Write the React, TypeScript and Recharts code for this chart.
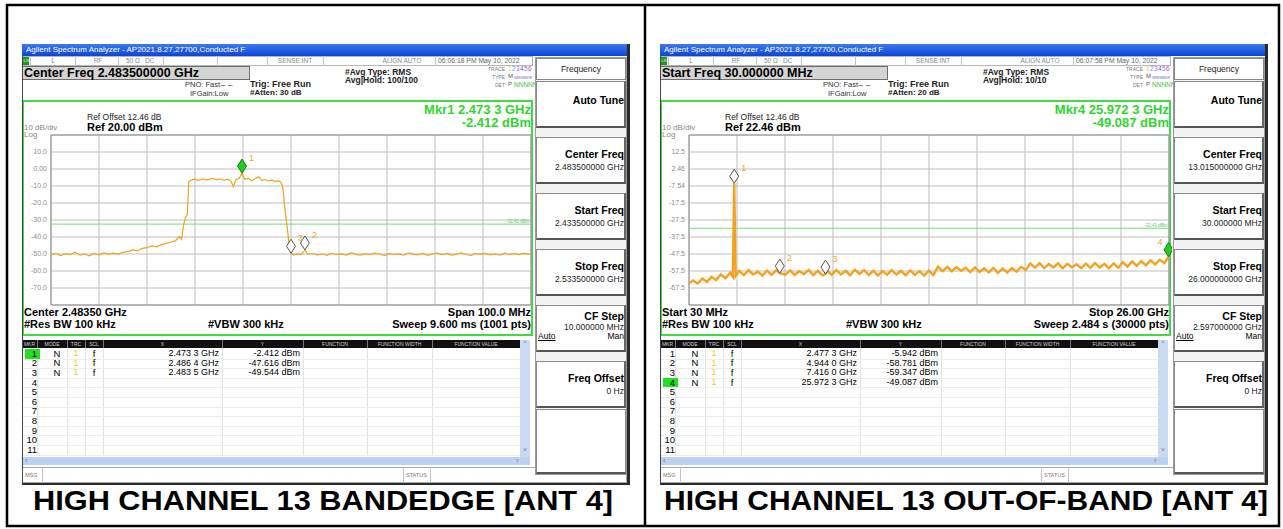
import React from 'react';
import { LineChart, Line, XAxis, YAxis, CartesianGrid, ReferenceLine, ReferenceDot, ReferenceArea } from 'recharts';

const FONT = '"Liberation Sans", Arial, sans-serif';
const ORANGE = '#f3a21f';
const GREEN = '#2ed62e';
const DISPLAY_LINE = -32.41;

// ---- band edge sweep (MHz, dBm) ----
const LOW_X_TICKS = [2433.5, 2443.5, 2453.5, 2463.5, 2473.5, 2483.5, 2493.5, 2503.5, 2513.5, 2523.5, 2533.5];
const LOW_Y_TICKS = [20, 10, 0, -10, -20, -30, -40, -50, -60, -70, -80];
const LOW_Y_LABELS = ['', '10.0', '0.00', '-10.0', '-20.0', '-30.0', '-40.0', '-50.0', '-60.0', '-70.0', ''];
const LOW_TRACE: [number, number][] = [
  [2433.5, -50.4], [2434.5, -49.6], [2435.5, -50.9], [2436.5, -49.8], [2437.5, -50.3], [2438.5, -48.9],
  [2439.5, -50.6], [2440.5, -50.0], [2441.5, -51.1], [2442.5, -49.7], [2443.5, -50.5], [2444.5, -49.4],
  [2445.5, -50.2], [2446.5, -49.5], [2447.5, -50.1], [2448.5, -49.0], [2449.5, -48.6], [2450.5, -47.6],
  [2451.5, -48.2], [2452.5, -46.7], [2453.5, -46.3], [2454.5, -45.2], [2455.5, -45.8], [2456.5, -44.5],
  [2457.5, -43.7], [2458.5, -43.1], [2459.5, -42.0], [2460.2, -39.6], [2460.7, -41.3], [2461.1, -33.5],
  [2461.5, -28.6], [2461.9, -26.8], [2462.2, -7.5], [2462.8, -6.3], [2463.5, -6.0], [2464.2, -6.7],
  [2465.0, -5.8], [2465.8, -6.4], [2466.5, -6.1], [2467.2, -5.5], [2468.0, -6.3], [2468.8, -5.9],
  [2469.5, -6.6], [2470.3, -6.0], [2471.0, -7.1], [2471.5, -10.4], [2472.0, -6.4], [2472.7, -5.4],
  [2473.3, -2.41], [2473.9, -6.1], [2474.6, -5.6], [2475.3, -6.9], [2476.0, -5.7], [2476.8, -4.6],
  [2477.4, -6.8], [2478.1, -6.2], [2478.8, -7.0], [2479.5, -6.6], [2480.2, -7.3], [2480.9, -7.0],
  [2481.4, -7.8], [2481.8, -11.0], [2482.1, -19.8], [2482.4, -27.5], [2482.8, -36.5], [2483.1, -44.8],
  [2483.5, -49.54], [2484.0, -50.7], [2484.8, -49.9], [2485.6, -50.4], [2486.4, -47.62], [2487.0, -50.2],
  [2488, -49.7], [2489, -50.5], [2490, -50.0], [2491, -50.8], [2492, -49.6], [2493, -50.3], [2494, -49.9],
  [2495, -50.6], [2496, -49.4], [2497, -50.2], [2498, -50.7], [2499, -49.8], [2500, -50.4], [2501, -49.5],
  [2502, -50.1], [2503, -50.9], [2504, -49.7], [2505, -50.3], [2506, -49.9], [2507, -50.6], [2508, -49.3],
  [2509, -50.2], [2510, -50.5], [2511, -49.6], [2512, -50.8], [2513, -50.0], [2514, -49.5], [2515, -50.4],
  [2516, -49.8], [2517, -50.7], [2518, -50.1], [2519, -49.4], [2520, -50.3], [2521, -50.9], [2522, -49.7],
  [2523, -50.2], [2524, -49.6], [2525, -50.5], [2526, -49.9], [2527, -50.6], [2528, -49.5], [2529, -50.3],
  [2530, -49.8], [2531, -50.4], [2532, -49.6], [2533.5, -50.2],
];
const LOW_MARKERS = [
  { n: '1', x: 2473.3, y: -2.412, active: true, side: 'right' },
  { n: '2', x: 2486.4, y: -47.616, active: false, side: 'right' },
  { n: '3', x: 2483.5, y: -49.544, active: false, side: 'right' },
];
const LOW_ROWS = [
  ['2.473 3 GHz', '-2.412 dBm'],
  ['2.486 4 GHz', '-47.616 dBm'],
  ['2.483 5 GHz', '-49.544 dBm'],
];

// ---- out-of-band sweep (GHz, dBm) ----
const HIGH_X_TICKS = [0.03, 2.627, 5.224, 7.821, 10.418, 13.015, 15.612, 18.209, 20.806, 23.403, 26.0];
const HIGH_Y_TICKS = [22.46, 12.46, 2.46, -7.54, -17.54, -27.54, -37.54, -47.54, -57.54, -67.54, -77.54];
const HIGH_Y_LABELS = ['', '12.5', '2.46', '-7.54', '-17.5', '-27.5', '-37.5', '-47.5', '-57.5', '-67.5', ''];
const HIGH_TRACE: [number, number][] = [
  [0.03, -64.8], [0.25, -63.1], [0.5, -64.9], [0.75, -62.0], [1.0, -63.9], [1.25, -61.0], [1.5, -62.9],
  [1.75, -59.6], [2.0, -61.8], [2.25, -58.6], [2.4, -60.9], [2.4773, -5.942], [2.55, -60.5], [2.75, -57.4],
  [3.0, -59.9], [3.25, -57.1], [3.5, -59.6], [3.75, -57.9], [4.0, -60.2], [4.25, -57.3], [4.5, -59.8],
  [4.75, -57.0], [4.944, -58.781], [5.25, -59.7], [5.5, -57.2], [5.75, -60.0], [6.0, -57.6], [6.25, -59.4],
  [6.5, -56.9], [6.75, -59.9], [7.0, -57.5], [7.25, -60.1], [7.416, -59.347], [7.5, -57.2], [7.75, -59.8],
  [8.0, -57.0], [8.25, -59.5], [8.5, -57.4], [8.75, -60.0], [9.0, -56.8], [9.25, -59.3], [9.5, -57.1],
  [9.75, -59.9], [10.0, -57.3], [10.25, -60.2], [10.5, -57.6], [10.75, -59.7], [11.0, -57.0], [11.25, -59.6],
  [11.5, -57.5], [11.75, -60.1], [12.0, -57.2], [12.25, -59.8], [12.5, -57.6], [12.75, -60.2], [13.0, -57.4],
  [13.25, -59.9], [13.5, -55.0], [13.75, -57.6], [14.0, -55.1], [14.25, -57.8], [14.5, -55.3], [14.75, -57.4],
  [15.0, -55.6], [15.25, -58.2], [15.5, -55.4], [15.75, -58.1], [16.0, -55.9], [16.25, -58.4], [16.5, -55.7],
  [16.75, -58.6], [17.0, -56.1], [17.25, -58.3], [17.5, -55.8], [17.75, -57.9], [18.0, -55.2], [18.25, -56.9],
  [18.5, -53.1], [18.75, -55.6], [19.0, -52.9], [19.25, -55.8], [19.5, -53.4], [19.75, -55.5], [20.0, -53.0],
  [20.25, -56.0], [20.5, -53.3], [20.75, -55.4], [21.0, -53.6], [21.25, -55.9], [21.5, -53.2], [21.75, -55.7],
  [22.0, -52.8], [22.25, -55.5], [22.5, -53.3], [22.75, -55.9], [23.0, -53.1], [23.25, -55.6], [23.5, -52.4],
  [23.75, -54.9], [24.0, -51.9], [24.25, -54.5], [24.5, -51.8], [24.75, -54.2], [25.0, -51.3], [25.25, -53.6],
  [25.5, -50.9], [25.75, -52.8], [25.9723, -49.087], [26.0, -51.2],
];
const HIGH_MARKERS = [
  { n: '1', x: 2.4773, y: -5.942, active: false, side: 'right' },
  { n: '2', x: 4.944, y: -58.781, active: false, side: 'right' },
  { n: '3', x: 7.416, y: -59.347, active: false, side: 'right' },
  { n: '4', x: 25.9723, y: -49.087, active: true, side: 'left' },
];
const HIGH_ROWS = [
  ['2.477 3 GHz', '-5.942 dBm'],
  ['4.944 0 GHz', '-58.781 dBm'],
  ['7.416 0 GHz', '-59.347 dBm'],
  ['25.972 3 GHz', '-49.087 dBm'],
];

const TABLE_COLS = [0, 15, 45, 63, 81, 200, 281, 345, 410, 498];
const TABLE_HEAD = ['MKR', 'MODE', 'TRC', 'SCL', 'X', 'Y', 'FUNCTION', 'FUNCTION WIDTH', 'FUNCTION VALUE'];

const LOW = {
  title: 'Agilent Spectrum Analyzer - AP2021.8.27,27700,Conducted F',
  time: '06:06:18 PM May 10, 2022',
  freqBox: 'Center Freq 2.483500000 GHz',
  atten: '#Atten: 30 dB',
  avgHold: 'Avg|Hold: 100/100',
  mkr: 'Mkr1 2.473 3 GHz',
  mkrVal: '-2.412 dBm',
  ref: 'Ref 20.00 dBm',
  bl: 'Center 2.48350 GHz',
  br: 'Span 100.0 MHz',
  sweep: 'Sweep  9.600 ms (1001 pts)',
  xDomain: [2433.5, 2533.5],
  xTicks: LOW_X_TICKS,
  yTicks: LOW_Y_TICKS,
  yLabels: LOW_Y_LABELS,
  trace: LOW_TRACE,
  traceWidth: 1.2,
  markers: LOW_MARKERS,
  rows: LOW_ROWS,
  activeRow: 0,
  soft: ['2.483500000 GHz', '2.433500000 GHz', '2.533500000 GHz', '10.000000 MHz'],
  caption: 'HIGH CHANNEL 13 BANDEDGE [ANT 4]',
};

const HIGH = {
  title: 'Agilent Spectrum Analyzer - AP2021.8.27,27700,Conducted F',
  time: '06:07:58 PM May 10, 2022',
  freqBox: 'Start Freq 30.000000 MHz',
  atten: '#Atten: 20 dB',
  avgHold: 'Avg|Hold: 10/10',
  mkr: 'Mkr4 25.972 3 GHz',
  mkrVal: '-49.087 dBm',
  ref: 'Ref 22.46 dBm',
  bl: 'Start 30 MHz',
  br: 'Stop 26.00 GHz',
  sweep: 'Sweep  2.484 s (30000 pts)',
  xDomain: [0.03, 26.0],
  xTicks: HIGH_X_TICKS,
  yTicks: HIGH_Y_TICKS,
  yLabels: HIGH_Y_LABELS,
  trace: HIGH_TRACE,
  traceWidth: 2.4,
  markers: HIGH_MARKERS,
  rows: HIGH_ROWS,
  activeRow: 3,
  soft: ['13.015000000 GHz', '30.000000 MHz', '26.000000000 GHz', '2.597000000 GHz'],
  caption: 'HIGH CHANNEL 13 OUT-OF-BAND [ANT 4]',
};

function Txt({ x, y, s, w, c, a, children }: any) {
  return (
    <div
      style={{
        position: 'absolute',
        left: x,
        top: y - s * 0.6,
        fontSize: s,
        lineHeight: `${s * 1.2}px`,
        fontWeight: w ? 700 : 400,
        color: c || '#000',
        whiteSpace: 'nowrap',
        transform: a === 'end' ? 'translateX(-100%)' : a === 'middle' ? 'translateX(-50%)' : undefined,
      }}
    >
      {children}
    </div>
  );
}

function Box({ x, y, w, h, bg, border, style }: any) {
  return (
    <div
      style={{
        position: 'absolute', left: x, top: y, width: w, height: h, background: bg,
        border, boxSizing: 'border-box', ...style,
      }}
    />
  );
}

function Marker({ cx, cy, m }: any) {
  if (cx == null || cy == null) return null;
  const pts = `${cx},${cy} ${cx + 4.5},${cy - 7} ${cx},${cy - 14} ${cx - 4.5},${cy - 7}`;
  const left = m.side === 'left';
  return (
    <g>
      <polygon
        points={pts}
        fill={m.active ? '#1fd11f' : '#fff'}
        stroke={m.active ? '#0b800b' : '#555'}
        strokeWidth={1}
      />
      <text x={left ? cx - 6 : cx + 7} y={cy - 12} fontSize={9} fill={ORANGE} textAnchor={left ? 'end' : 'start'} fontFamily={FONT}>
        {m.n}
      </text>
    </g>
  );
}

function Trace({ cfg }: any) {
  const data = cfg.trace.map(([f, level]: [number, number]) => ({ f, level }));
  const yDomain = [cfg.yTicks[cfg.yTicks.length - 1], cfg.yTicks[0]];
  const fmt = (v: number) => {
    const i = cfg.yTicks.findIndex((t: number) => Math.abs(t - v) < 1e-6);
    return i >= 0 ? cfg.yLabels[i] : '';
  };
  // half-pixel offset keeps the 1px graticule lines crisp
  return (
    <div style={{ position: 'absolute', left: 0.5, top: 80.5 }}>
      <LineChart width={511} height={190} data={data} margin={{ top: 10, right: 3, bottom: 10, left: 0 }}>
        <CartesianGrid
          stroke="#bdbdbd"
          strokeWidth={1}
          verticalValues={cfg.xTicks}
          horizontalValues={cfg.yTicks}
        />
        <XAxis dataKey="f" type="number" domain={cfg.xDomain} ticks={cfg.xTicks} interval={0} hide allowDataOverflow />
        <YAxis
          type="number"
          domain={yDomain}
          ticks={cfg.yTicks}
          interval={0}
          width={28}
          tickSize={0}
          tickMargin={4}
          axisLine={false}
          tickLine={false}
          allowDataOverflow
          tick={{ fontSize: 7, fill: '#8c8c8c', fontFamily: FONT }}
          tickFormatter={fmt}
        />
        <ReferenceArea
          x1={cfg.xDomain[0]} x2={cfg.xDomain[1]} y1={yDomain[0]} y2={yDomain[1]}
          fill="none" fillOpacity={0} stroke="#8e8e8e" strokeWidth={1}
        />
        <ReferenceLine
          y={DISPLAY_LINE}
          stroke="#72dc72"
          strokeWidth={1}
          label={{ value: '-32.41 dBm', position: 'insideBottomRight', offset: 1.5, fontSize: 4.5, fill: '#5bc85b' }}
        />
        <Line dataKey="level" type="linear" stroke={ORANGE} strokeWidth={cfg.traceWidth} dot={false} isAnimationActive={false} />
        {cfg.markers.map((m: any) => (
          <ReferenceDot key={m.n} x={m.x} y={m.y} r={0} shape={(p: any) => <Marker cx={p.cx} cy={p.cy} m={m} />} />
        ))}
      </LineChart>
    </div>
  );
}

function StatusRow({ time }: { time: string }) {
  const seps = [8, 53, 96, 141, 195, 245, 301, 413];
  return (
    <>
      <Box x={0} y={12} w={511} h={10} bg="#fff" border="1px solid #b5b5b5" />
      {seps.map((s) => (
        <Box key={s} x={s} y={12} w={1} h={10} bg="#c4c4c4" />
      ))}
      <Box x={1} y={13} w={6} h={8} bg="#1a9a1a" />
      <Txt x={1.5} y={17} s={4} c="#fff">LXI</Txt>
      <Txt x={31} y={17} s={6.5} c="#888" a="middle">L</Txt>
      <Txt x={76} y={17} s={6.5} c="#888" a="middle">RF</Txt>
      <Txt x={104} y={17} s={6.5} c="#888">50 Ω</Txt>
      <Txt x={123} y={17} s={6.5} c="#888">DC</Txt>
      <Txt x={273} y={17} s={6.5} c="#888" a="middle">SENSE:INT</Txt>
      <Txt x={380} y={17} s={6.5} c="#888" a="middle">ALIGN AUTO</Txt>
      <Txt x={416} y={17} s={6.8} c="#666">{time}</Txt>
    </>
  );
}

function TraceInfo() {
  const nums = [['1', '#e6d200'], ['2', '#48a6e8'], ['3', '#b36ad8'], ['4', '#4a70e0'], ['5', '#b36ad8'], ['6', '#d23cc8']];
  return (
    <>
      <Txt x={483} y={25} s={5} c="#777" a="end">TRACE</Txt>
      {nums.map(([n, c], i) => (
        <Txt key={n} x={486 + i * 4} y={25} s={6.5} c={c}>{n}</Txt>
      ))}
      <Txt x={483} y={33} s={5} c="#777" a="end">TYPE</Txt>
      <Txt x={486} y={33} s={6} c="#555">M</Txt>
      <Txt x={492} y={33} s={5} c="#8a7ad8">wwwww</Txt>
      <Txt x={483} y={41} s={5} c="#777" a="end">DET</Txt>
      <Txt x={486} y={41} s={6} c="#555">P</Txt>
      <Txt x={492} y={41} s={6.5} c="#3cc83c">NNNNN</Txt>
    </>
  );
}

function MarkerTable({ rows, activeRow }: { rows: string[][]; activeRow: number }) {
  const top = 296;
  const rowH = 9.6;
  return (
    <>
      <Box x={0} y={top} w={498} h={8} bg="#111" />
      {TABLE_COLS.slice(1, -1).map((c) => (
        <Box key={c} x={c} y={top} w={1} h={8} bg="#777" />
      ))}
      {TABLE_HEAD.map((h, i) => (
        <Txt key={h} x={(TABLE_COLS[i] + TABLE_COLS[i + 1]) / 2} y={top + 4} s={5} c="#cfcfcf" a="middle">{h}</Txt>
      ))}
      {TABLE_COLS.slice(1, -1).map((c) => (
        <Box key={'v' + c} x={c} y={top + 8} w={1} h={rowH * 11 + 2} bg="#e2e2e2" />
      ))}
      {Array.from({ length: 11 }).map((_, i) => (
        <React.Fragment key={i}>
          <Box x={0} y={top + 9 + rowH * (i + 1)} w={498} h={1} bg="#ececec" />
          {i === activeRow && <Box x={3} y={top + 9 + rowH * i} w={15} h={rowH} bg="#22e022" />}
          <Txt x={15} y={top + 13.5 + rowH * i} s={9.5} a="end">{String(i + 1)}</Txt>
          {rows[i] && (
            <>
              <Txt x={35} y={top + 13.5 + rowH * i} s={9.5} a="middle">N</Txt>
              <Txt x={54} y={top + 13.5 + rowH * i} s={9} c="#e8d400" a="middle">1</Txt>
              <Txt x={72} y={top + 13.5 + rowH * i} s={9.5} a="middle">f</Txt>
              <Txt x={197} y={top + 13.5 + rowH * i} s={9} a="end">{rows[i][0]}</Txt>
              <Txt x={278} y={top + 13.5 + rowH * i} s={9} a="end">{rows[i][1]}</Txt>
            </>
          )}
        </React.Fragment>
      ))}
      <Box x={498} y={top} w={10} h={117} bg="#c9d9f2" />
      <Txt x={503} y={top + 4} s={6} c="#5070b0" a="middle">^</Txt>
      <Txt x={503} y={top + 110} s={6} c="#5070b0" a="middle">v</Txt>
      <Box x={0} y={413} w={508} h={8} bg="#bcd0f0" />
      <Txt x={3} y={417} s={7} c="#5070b0">‹</Txt>
      <Txt x={494} y={417} s={7} c="#5070b0">›</Txt>
      <Box x={0} y={423} w={605} h={16} bg="#fff" border="1px solid #a8a8a8" />
      <Box x={20} y={423} w={1} h={16} bg="#c4c4c4" />
      <Box x={381} y={423} w={1} h={16} bg="#c4c4c4" />
      <Box x={408} y={423} w={1} h={16} bg="#c4c4c4" />
      <Txt x={3} y={431} s={5.5} c="#777">MSG</Txt>
      <Txt x={384} y={431} s={5.5} c="#777">STATUS</Txt>
    </>
  );
}

function SoftKeys({ vals }: { vals: string[] }) {
  const keys = [
    { top: 37, h: 47, t: 'Auto Tune', ty: 19 },
    { top: 93, h: 47, t: 'Center Freq', v: vals[0], ty: 17 },
    { top: 149, h: 47, t: 'Start Freq', v: vals[1], ty: 17 },
    { top: 205, h: 47, t: 'Stop Freq', v: vals[2], ty: 17 },
    { top: 261, h: 47, t: 'CF Step', v: vals[3], ty: 11, auto: true },
    { top: 317, h: 47, t: 'Freq Offset', v: '0 Hz', ty: 17 },
  ];
  return (
    <>
      <Box x={513} y={13} w={92} h={418} bg="#f2f2f2" border="1px solid #9a9a9a" />
      <Box x={514} y={14} w={90} h={22} bg="#fff" border="1px solid #888" />
      <Txt x={559} y={25} s={8.5} c="#222" a="middle">Frequency</Txt>
      {keys.map((k) => (
        <React.Fragment key={k.t}>
          <Box
            x={514} y={k.top} w={90} h={k.h} bg="#fff"
            border="1px solid #8a8a8a" style={{ borderBottom: '2px solid #555', borderRight: '2px solid #666' }}
          />
          <Txt x={602} y={k.top + k.ty} s={10.5} w a="end">{k.t}</Txt>
          {k.v && <Txt x={602} y={k.top + k.ty + (k.auto ? 11 : 13)} s={8.5} c="#222" a="end">{k.v}</Txt>}
          {k.auto && (
            <>
              <div style={{ position: 'absolute', left: 516, top: k.top + 26, fontSize: 8.5, lineHeight: '10px', textDecoration: 'underline' }}>Auto</div>
              <Txt x={602} y={k.top + 31} s={8.5} a="end">Man</Txt>
            </>
          )}
        </React.Fragment>
      ))}
      <Box x={514} y={365} w={90} h={65} bg="#fff" border="1px solid #8a8a8a" style={{ borderBottom: '2px solid #555' }} />
    </>
  );
}

function Panel({ cfg, left }: any) {
  return (
    <div
      style={{
        position: 'absolute', left, top: 44, width: 608, height: 441, background: '#fff',
        overflow: 'hidden', fontFamily: FONT,
      }}
    >
      <Box x={0} y={0} w={608} h={12} bg="linear-gradient(#3b7af2, #0c45d6)" />
      <Txt x={4} y={6} s={8} c="#fff">{cfg.title}</Txt>
      <StatusRow time={cfg.time} />
      <Box x={0} y={22} w={228} h={14} bg="#d4d4d4" border="1px solid #6e6e6e" />
      <Txt x={2} y={29} s={12.5} w>{cfg.freqBox}</Txt>
      <Txt x={163} y={40} s={7.5} c="#333">PNO: Fast</Txt>
      <Txt x={197} y={40} s={7.5} c="#333">→←</Txt>
      <Txt x={168} y={49} s={7.5} c="#333">IFGain:Low</Txt>
      <Txt x={228} y={40} s={9} w c="#222">Trig: Free Run</Txt>
      <Txt x={228} y={49} s={8} w c="#222">{cfg.atten}</Txt>
      <Txt x={323} y={28} s={8.5} w c="#222">#Avg Type: RMS</Txt>
      <Txt x={323} y={36} s={8.5} w c="#222">{cfg.avgHold}</Txt>
      <TraceInfo />

      <Box x={0} y={56} w={511} h={236} bg="#fff" border={`2px solid #3fdc3f`} />
      <Txt x={509} y={66} s={13} w c={GREEN} a="end">{cfg.mkr}</Txt>
      <Txt x={509} y={79} s={13} w c={GREEN} a="end">{cfg.mkrVal}</Txt>
      <Txt x={65} y={73} s={8.5} c="#222">Ref Offset 12.46 dB</Txt>
      <Txt x={65} y={84} s={11} w>{cfg.ref}</Txt>
      <Txt x={2} y={84} s={8} c="#888">10 dB/div</Txt>
      <Txt x={2} y={90.5} s={8} c="#888">Log</Txt>
      <Trace cfg={cfg} />
      <Txt x={2} y={269} s={11} w>{cfg.bl}</Txt>
      <Txt x={2} y={281} s={11} w>#Res BW 100 kHz</Txt>
      <Txt x={186} y={281} s={11} w>#VBW 300 kHz</Txt>
      <Txt x={509} y={269} s={11} w a="end">{cfg.br}</Txt>
      <Txt x={509} y={281} s={11} w a="end">{cfg.sweep}</Txt>

      <MarkerTable rows={cfg.rows} activeRow={cfg.activeRow} />
      <SoftKeys vals={cfg.soft} />

      <Box x={605} y={0} w={3} h={441} bg="#2a2a2a" />
      <Box x={0} y={439} w={608} h={2} bg="#2a2a2a" />
      <Box x={0} y={12} w={1} h={429} bg="#444" />
    </div>
  );
}

export default function App() {
  return (
    <div style={{ position: 'absolute', left: 0, top: 0, width: 1283, height: 529, background: '#fff', overflow: 'hidden' }}>
      <svg width={1283} height={529} style={{ position: 'absolute', left: 0, top: 0 }}>
        <rect x={7} y={5} width={1272} height={521} fill="none" stroke="#000" strokeWidth={2.5} />
        <line x1={645} y1={5} x2={645} y2={526} stroke="#000" strokeWidth={2.5} />
        <text x={33} y={510} fontSize={27} fontWeight={700} fontFamily={FONT} textLength={580} lengthAdjust="spacingAndGlyphs">
          {LOW.caption}
        </text>
        <text x={664} y={510} fontSize={27} fontWeight={700} fontFamily={FONT} textLength={604} lengthAdjust="spacingAndGlyphs">
          {HIGH.caption}
        </text>
      </svg>
      <Panel cfg={LOW} left={22} />
      <Panel cfg={HIGH} left={660} />
    </div>
  );
}
